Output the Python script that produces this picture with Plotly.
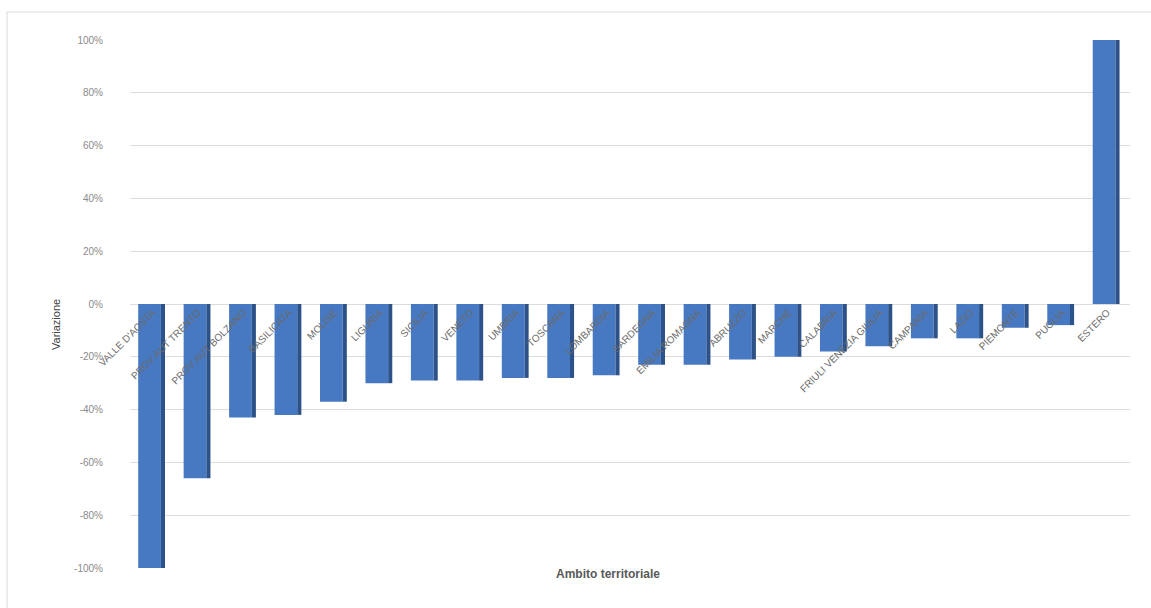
import plotly.graph_objects as go

regions = ["VALLE D'AOSTA", "PROV AUT TRENTO", "PROV AUT BOLZANO", "BASILICATA", "MOLISE",
           "LIGURIA", "SICILIA", "VENETO", "UMBRIA", "TOSCANA", "LOMBARDIA", "SARDEGNA",
           "EMILIA ROMAGNA", "ABRUZZO", "MARCHE", "CALABRIA", "FRIULI VENEZIA GIULIA",
           "CAMPANIA", "LAZIO", "PIEMONTE", "PUGLIA", "ESTERO"]
variazione = [-100, -66, -43, -42, -37, -30, -29, -29, -28, -28, -27, -23,
              -23, -21, -20, -18, -16, -13, -13, -9, -8, 100]
y_ticks = [100, 80, 60, 40, 20, 0, -20, -40, -60, -80, -100]
y_tick_labels = [f"{v}%" for v in y_ticks]

W, H = 1151, 608
L, R, T, B = 130, 21, 40, 40
pw, ph = W - L - R, H - T - B

def px_x(x):
    return (x - L) / pw

def px_y(y):
    return (H - B - y) / ph

fig = go.Figure()
# front face
fig.add_trace(go.Bar(x=regions, y=variazione, width=0.5, offset=-0.32,
                     marker=dict(color="#4779c2", line=dict(width=0)),
                     hoverinfo="x+y", showlegend=False))
# side face (3D look)
fig.add_trace(go.Bar(x=regions, y=variazione, width=0.09, offset=0.18,
                     marker=dict(color="#2c5289", line=dict(width=0)),
                     hoverinfo="skip", showlegend=False))

fig.update_layout(
    width=W, height=H,
    margin=dict(l=L, r=R, t=T, b=B),
    paper_bgcolor="white", plot_bgcolor="white",
    barmode="overlay",
    font=dict(family="Liberation Sans, Arial, sans-serif", color="#7f7f7f"),
    xaxis=dict(
        type="category", anchor="free", position=px_y(304),
        tickangle=-45, tickfont=dict(size=10, color="#6b6b6b"),
        showgrid=False, showline=False, zeroline=False, ticks="",
        range=[-0.5, len(regions) - 0.5],
    ),
    yaxis=dict(
        range=[-100, 100], tickvals=y_ticks, ticktext=y_tick_labels,
        tickfont=dict(size=10, color="#8a8a8a"),
        showgrid=True, gridcolor="#dcdcdc", gridwidth=1,
        zeroline=True, zerolinecolor="#dcdcdc", zerolinewidth=1,
        showline=False, ticks="", ticklabelstandoff=26,
    ),
    annotations=[
        dict(text="Variazione", xref="paper", yref="paper",
             x=px_x(48), y=px_y(325), showarrow=False, textangle=-90,
             font=dict(size=11, color="#404040")),
        dict(text="<b>Ambito territoriale</b>", xref="paper", yref="paper",
             x=px_x(608), y=px_y(583), showarrow=False,
             font=dict(size=12, color="#595959")),
    ],
    shapes=[
        dict(type="line", xref="paper", yref="paper",
             x0=px_x(7), x1=px_x(1151), y0=px_y(12), y1=px_y(12),
             line=dict(color="#d9d9d9", width=1)),
        dict(type="line", xref="paper", yref="paper",
             x0=px_x(7), x1=px_x(7), y0=px_y(12), y1=px_y(608),
             line=dict(color="#d9d9d9", width=1)),
    ],
)

fig.write_html("out.html", config={"displayModeBar": False},
               post_script="document.body.style.margin='0';")
